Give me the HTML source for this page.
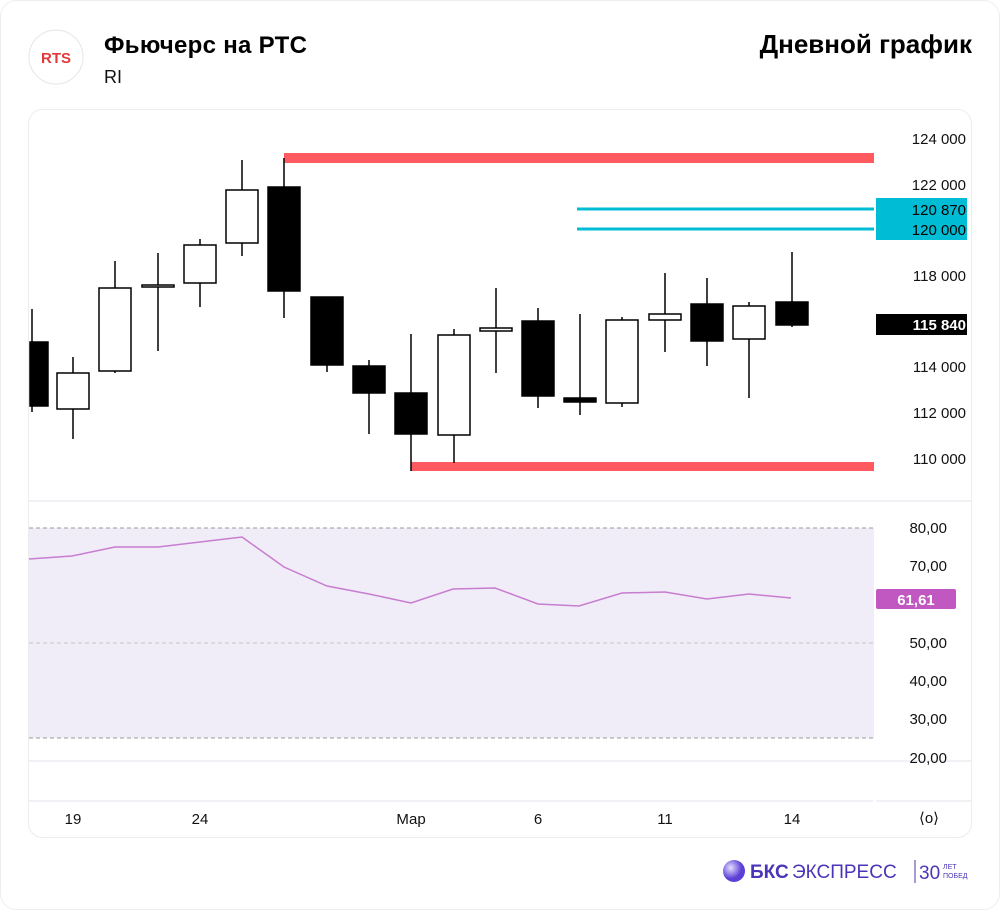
<!DOCTYPE html>
<html><head><meta charset="utf-8"><style>
body{margin:0;background:#fff;}
svg{display:block;font-family:"Liberation Sans","DejaVu Sans",sans-serif;}
</style></head><body>
<svg width="1000" height="910" viewBox="0 0 1000 910">
<rect x="0.5" y="0.5" width="999" height="909" rx="16" fill="#fff" stroke="#eee"/>
<circle cx="56" cy="57" r="27" fill="#fff" stroke="#e6e6e6"/>
<text x="56" y="63" text-anchor="middle" font-size="15" font-weight="bold" fill="#e03a3a">RTS</text>
<text x="104" y="53" font-size="24" font-weight="bold" fill="#000" textLength="203">Фьючерс на РТС</text>
<text x="104" y="83" font-size="18" fill="#111">RI</text>
<text x="972" y="53" text-anchor="end" font-size="26" font-weight="bold" fill="#000">Дневной график</text>
<rect x="28.5" y="109.5" width="943" height="728" rx="14" fill="#fff" stroke="#ececec"/>
<line x1="29" y1="501" x2="971" y2="501" stroke="#e3e6ee"/>
<line x1="29" y1="761" x2="971" y2="761" stroke="#e3e6ee"/>
<line x1="29" y1="801" x2="873" y2="801" stroke="#e3e6ee"/>
<line x1="876" y1="801" x2="971" y2="801" stroke="#e3e6ee"/>
<rect x="284" y="153" width="590" height="10" fill="#ff5a5f"/>
<rect x="411" y="462" width="463" height="9" fill="#ff5a5f"/>
<line x1="577" y1="209" x2="874" y2="209" stroke="#00bcd4" stroke-width="3"/>
<line x1="577" y1="229" x2="874" y2="229" stroke="#00bcd4" stroke-width="3"/>
<g stroke="#000" stroke-width="1.5">
<line x1="32" y1="309" x2="32" y2="412"/><rect x="30" y="342" width="18" height="64" fill="#000"/>
<line x1="73" y1="357" x2="73" y2="439"/><rect x="57" y="373" width="32" height="36" fill="#fff"/>
<line x1="115" y1="261" x2="115" y2="373"/><rect x="99" y="288" width="32" height="83" fill="#fff"/>
<line x1="158" y1="253" x2="158" y2="351"/><rect x="142" y="285" width="32" height="2" fill="#fff"/>
<line x1="200" y1="239" x2="200" y2="307"/><rect x="184" y="245" width="32" height="38" fill="#fff"/>
<line x1="242" y1="160" x2="242" y2="256"/><rect x="226" y="190" width="32" height="53" fill="#fff"/>
<line x1="284" y1="158" x2="284" y2="318"/><rect x="268" y="187" width="32" height="104" fill="#000"/>
<line x1="327" y1="297" x2="327" y2="372"/><rect x="311" y="297" width="32" height="68" fill="#000"/>
<line x1="369" y1="360" x2="369" y2="434"/><rect x="353" y="366" width="32" height="27" fill="#000"/>
<line x1="411" y1="334" x2="411" y2="471"/><rect x="395" y="393" width="32" height="41" fill="#000"/>
<line x1="454" y1="329" x2="454" y2="463"/><rect x="438" y="335" width="32" height="100" fill="#fff"/>
<line x1="496" y1="288" x2="496" y2="373"/><rect x="480" y="328" width="32" height="3" fill="#fff"/>
<line x1="538" y1="308" x2="538" y2="408"/><rect x="522" y="321" width="32" height="75" fill="#000"/>
<line x1="580" y1="314" x2="580" y2="415"/><rect x="564" y="398" width="32" height="4" fill="#000"/>
<line x1="622" y1="317" x2="622" y2="407"/><rect x="606" y="320" width="32" height="83" fill="#fff"/>
<line x1="665" y1="273" x2="665" y2="352"/><rect x="649" y="314" width="32" height="6" fill="#fff"/>
<line x1="707" y1="278" x2="707" y2="366"/><rect x="691" y="304" width="32" height="37" fill="#000"/>
<line x1="749" y1="302" x2="749" y2="398"/><rect x="733" y="306" width="32" height="33" fill="#fff"/>
<line x1="792" y1="252" x2="792" y2="327"/><rect x="776" y="302" width="32" height="23" fill="#000"/>
</g>
<g font-size="15" fill="#111" text-anchor="end">
<text x="966" y="144">124 000</text>
<text x="966" y="190">122 000</text>
<text x="966" y="281">118 000</text>
<text x="966" y="372">114 000</text>
<text x="966" y="418">112 000</text>
<text x="966" y="464">110 000</text>
</g>
<rect x="876" y="198" width="91" height="42" fill="#00bcd4"/>
<text x="966" y="215" font-size="15" text-anchor="end" fill="#000">120 870</text>
<text x="966" y="235" font-size="15" text-anchor="end" fill="#000">120 000</text>
<rect x="876" y="314" width="91" height="21" fill="#000"/>
<text x="966" y="330" font-size="15" text-anchor="end" fill="#fff" font-weight="bold">115 840</text>
<rect x="29" y="528" width="845" height="210" fill="#f1edf8"/>
<g stroke="#999" stroke-dasharray="4,3" stroke-width="1">
<line x1="29" y1="528" x2="874" y2="528"/>
<line x1="29" y1="738" x2="874" y2="738"/>
</g>
<line x1="29" y1="643" x2="874" y2="643" stroke="#c8c8c8" stroke-dasharray="4,3"/>
<polyline fill="none" stroke="#c77dd0" stroke-width="1.5" points="29,559 72,556 115,547 158,547 200,542 242,537 284,567 327,586 369,594 411,603 453,589 495,588 538,604 579,606 622,593 665,592 707,599 749,594 791,598"/>
<g font-size="15" fill="#111" text-anchor="end">
<text x="947" y="533">80,00</text>
<text x="947" y="571">70,00</text>
<text x="947" y="648">50,00</text>
<text x="947" y="686">40,00</text>
<text x="947" y="724">30,00</text>
<text x="947" y="763">20,00</text>
</g>
<rect x="876" y="589" width="80" height="20" rx="2" fill="#c158c2"/>
<text x="916" y="605" font-size="15" text-anchor="middle" fill="#fff" font-weight="bold">61,61</text>
<g font-size="15" fill="#111" text-anchor="middle">
<text x="73" y="824">19</text>
<text x="200" y="824">24</text>
<text x="411" y="824">Мар</text>
<text x="538" y="824">6</text>
<text x="665" y="824">11</text>
<text x="792" y="824">14</text>
<text x="929" y="823">⟨o⟩</text>
</g>
<defs><radialGradient id="g" cx="35%" cy="35%"><stop offset="0" stop-color="#e6e0ff"/><stop offset="1" stop-color="#5b3fd6"/></radialGradient></defs>
<circle cx="734" cy="871" r="11" fill="url(#g)"/>
<text x="750" y="878" font-size="19" font-weight="bold" fill="#4a35b8">БКС</text>
<text x="792" y="878" font-size="19" fill="#4a35b8">ЭКСПРЕСС</text>
<line x1="915" y1="860" x2="915" y2="883" stroke="#4a35b8"/>
<text x="919" y="879" font-size="19" fill="#4a35b8">30</text>
<text x="943" y="869" font-size="7" fill="#4a35b8">ЛЕТ</text>
<text x="943" y="878" font-size="7" fill="#4a35b8">ПОБЕД</text>
</svg>
</body></html>
